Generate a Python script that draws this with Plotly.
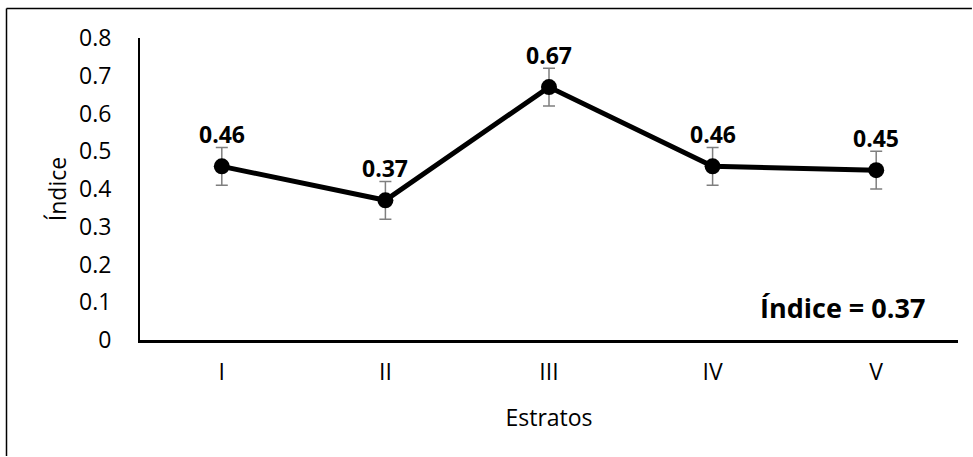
import plotly.graph_objects as go

categories = ["I", "II", "III", "IV", "V"]
values = [0.46, 0.37, 0.67, 0.46, 0.45]
errors = [0.05, 0.05, 0.05, 0.05, 0.05]
labels = ["0.46", "0.37", "0.67", "0.46", "0.45"]
y_ticks = [0, 0.1, 0.2, 0.3, 0.4, 0.5, 0.6, 0.7, 0.8]
y_tick_text = ["0", "0.1", "0.2", "0.3", "0.4", "0.5", "0.6", "0.7", "0.8"]

FONT = "Open Sans"

fig = go.Figure()
fig.add_trace(go.Scatter(
    x=categories, y=values, mode="lines+markers",
    line=dict(color="black", width=5),
    marker=dict(color="black", size=16),
    error_y=dict(type="data", array=errors, visible=True, color="#7f7f7f", thickness=1.5, width=6),
    showlegend=False, hoverinfo="skip",
))

annotations = []
for c, v, t in zip(categories, values, labels):
    annotations.append(dict(x=c, y=v, text="<b>" + t + "</b>", showarrow=False,
                            yshift=32, font=dict(family=FONT, size=23, color="black")))
annotations.append(dict(xref="paper", yref="paper", x=0.962, y=0.106, xanchor="right", yanchor="middle",
                        text="<b>Índice = 0.37</b>", showarrow=False,
                        font=dict(family=FONT, size=27, color="black")))

border = dict(color="black", width=1.5)
fig.update_layout(
    width=973, height=457,
    margin=dict(l=140, r=15, t=38, b=117),
    paper_bgcolor="white", plot_bgcolor="white",
    font=dict(family=FONT, size=23, color="black"),
    annotations=annotations,
    shapes=[
        dict(type="line", xref="paper", yref="paper", x0=-0.1632, x1=-0.1632, y0=-0.384, y1=1.0977, line=border),
        dict(type="line", xref="paper", yref="paper", x0=-0.1632, x1=1.017, y0=1.0977, y1=1.0977, line=border),
    ],
    xaxis=dict(
        type="category", showline=True, linecolor="black", linewidth=2.5,
        showgrid=False, zeroline=False, ticks="", ticklabelstandoff=10,
        title=dict(text="Estratos", standoff=24, font=dict(family=FONT, size=23)),
        range=[-0.5, 4.5],
    ),
    yaxis=dict(
        range=[0, 0.8], tickvals=y_ticks, ticktext=y_tick_text,
        showline=True, linecolor="black", linewidth=2, showgrid=False, zeroline=False,
        ticks="", ticklabelstandoff=22,
        title=dict(text="Índice", standoff=6, font=dict(family=FONT, size=23)),
    ),
)

fig.write_html("out.html")
